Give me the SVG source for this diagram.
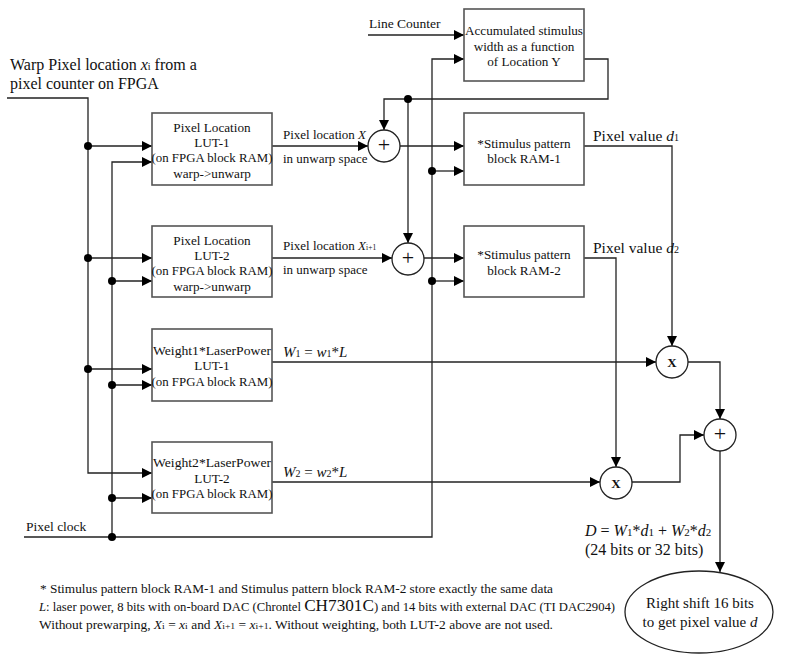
<svg xmlns="http://www.w3.org/2000/svg" width="790" height="662" viewBox="0 0 790 662">
<style>
.box{fill:#fff;stroke:#555;stroke-width:1.6}
.ln{fill:none;stroke:#222;stroke-width:1.3}
.arr{marker-end:url(#ah)}
.dot{fill:#000}
.op{fill:#fff;stroke:#222;stroke-width:1.3}
text{font-family:"Liberation Serif","Times New Roman",serif;fill:#111}
.bt{font-size:13.2px;text-anchor:middle}
.it{font-style:italic}
</style>
<defs>
<marker id="ah" markerWidth="10" markerHeight="10" refX="10" refY="5" orient="auto" markerUnits="userSpaceOnUse"><path d="M0,0 L10,5 L0,10 z" fill="#000"/></marker>
</defs>
<rect width="790" height="662" fill="#fff"/>

<g id="connectors">
<path class="ln arr" d="M7,98 H88 V473 H152"/>
<path class="ln arr" d="M88,146 H152"/>
<path class="ln arr" d="M88,258 H152"/>
<path class="ln arr" d="M88,369 H152"/>
<path class="ln arr" d="M112,537 V162 H152"/>
<path class="ln arr" d="M112,281 H152"/>
<path class="ln arr" d="M112,385 H152"/>
<path class="ln arr" d="M112,498 H152"/>
<path class="ln arr" d="M24,537 H432 V59 H464"/>
<path class="ln arr" d="M432,171 H464"/>
<path class="ln arr" d="M432,281 H464"/>
<path class="ln arr" d="M368,35 H464"/>
<path class="ln arr" d="M584,59 H608 V99 H384 V130"/>
<path class="ln arr" d="M408,99 V243"/>
<path class="ln arr" d="M272,146 H368"/>
<path class="ln arr" d="M400,146 H464"/>
<path class="ln arr" d="M272,258 H392"/>
<path class="ln arr" d="M424,258 H464"/>
<path class="ln arr" d="M584,146 H672 V346"/>
<path class="ln arr" d="M584,258 H616 V467"/>
<path class="ln arr" d="M272,362 H656"/>
<path class="ln arr" d="M272,482 H600"/>
<path class="ln arr" d="M688,362 H720 V419"/>
<path class="ln arr" d="M632,482 H680 V435 H704"/>
<path class="ln arr" d="M720,451 V572"/>
<circle class="dot" cx="88" cy="146" r="4"/>
<circle class="dot" cx="88" cy="258" r="4"/>
<circle class="dot" cx="88" cy="369" r="4"/>
<circle class="dot" cx="112" cy="281" r="4"/>
<circle class="dot" cx="112" cy="385" r="4"/>
<circle class="dot" cx="112" cy="498" r="4"/>
<circle class="dot" cx="112" cy="537" r="4"/>
<circle class="dot" cx="432" cy="171" r="4"/>
<circle class="dot" cx="432" cy="281" r="4"/>
<circle class="dot" cx="408" cy="99" r="4"/>
</g>

<g id="lut1">
<rect class="box" x="152" y="113" width="120" height="72"/>
<text class="bt" x="212" y="132">Pixel Location</text>
<text class="bt" x="212" y="147">LUT-1</text>
<text class="bt" x="212" y="162" textLength="121" lengthAdjust="spacingAndGlyphs">(on FPGA block RAM)</text>
<text class="bt" x="212" y="178">warp-&gt;unwarp</text>
</g>
<g id="lut2">
<rect class="box" x="152" y="226" width="120" height="71"/>
<text class="bt" x="212" y="245">Pixel Location</text>
<text class="bt" x="212" y="260">LUT-2</text>
<text class="bt" x="212" y="275" textLength="121" lengthAdjust="spacingAndGlyphs">(on FPGA block RAM)</text>
<text class="bt" x="212" y="291">warp-&gt;unwarp</text>
</g>
<g id="weight1">
<rect class="box" x="152" y="329" width="120" height="72"/>
<text class="bt" x="212" y="355" textLength="118" lengthAdjust="spacingAndGlyphs">Weight1*LaserPower</text>
<text class="bt" x="212" y="370">LUT-1</text>
<text class="bt" x="212" y="386" textLength="121" lengthAdjust="spacingAndGlyphs">(on FPGA block RAM)</text>
</g>
<g id="weight2">
<rect class="box" x="152" y="442" width="120" height="71"/>
<text class="bt" x="212" y="467" textLength="118" lengthAdjust="spacingAndGlyphs">Weight2*LaserPower</text>
<text class="bt" x="212" y="483">LUT-2</text>
<text class="bt" x="212" y="498" textLength="121" lengthAdjust="spacingAndGlyphs">(on FPGA block RAM)</text>
</g>
<g id="accum">
<rect class="box" x="464" y="9" width="120" height="72"/>
<text class="bt" x="524" y="35" textLength="118" lengthAdjust="spacingAndGlyphs">Accumulated stimulus</text>
<text class="bt" x="524" y="51">width as a function</text>
<text class="bt" x="524" y="66">of Location Y</text>
</g>
<g id="ram1">
<rect class="box" x="464" y="113" width="120" height="72"/>
<text class="bt" x="524" y="148">*Stimulus pattern</text>
<text class="bt" x="524" y="163">block RAM-1</text>
</g>
<g id="ram2">
<rect class="box" x="464" y="226" width="120" height="71"/>
<text class="bt" x="524" y="259">*Stimulus pattern</text>
<text class="bt" x="524" y="275">block RAM-2</text>
</g>
<g id="plus1">
<circle class="op" cx="384" cy="146" r="16"/>
<text x="384" y="152" font-size="22" text-anchor="middle">+</text>
</g>
<g id="plus2">
<circle class="op" cx="408" cy="259" r="16"/>
<text x="408" y="265" font-size="22" text-anchor="middle">+</text>
</g>
<g id="mult1">
<circle class="op" cx="672" cy="362" r="16"/>
<text x="672" y="367" font-size="13" font-weight="bold" text-anchor="middle">X</text>
</g>
<g id="mult2">
<circle class="op" cx="616" cy="483" r="16"/>
<text x="616" y="488" font-size="13" font-weight="bold" text-anchor="middle">X</text>
</g>
<g id="plus3">
<circle class="op" cx="720" cy="435" r="16"/>
<text x="720" y="441" font-size="22" text-anchor="middle">+</text>
</g>
<g id="shift">
<ellipse class="op" cx="699" cy="612" rx="74" ry="41"/>
<text x="700" y="608" font-size="15" text-anchor="middle">Right shift 16 bits</text>
<text x="700" y="627" font-size="15" text-anchor="middle">to get pixel value <tspan class="it">d</tspan></text>
</g>

<g id="labels">
<text x="10" y="70" font-size="16">Warp Pixel location <tspan class="it">x</tspan><tspan font-size="10">i</tspan> from a</text>
<text x="10" y="89" font-size="16">pixel counter on FPGA</text>
<text x="369" y="28" font-size="13.5">Line Counter</text>
<text x="26" y="531" font-size="13.5">Pixel clock</text>
<text x="283" y="139" font-size="13">Pixel location <tspan class="it">X</tspan></text>
<text x="283" y="163" font-size="13">in unwarp space</text>
<text x="283" y="250" font-size="13">Pixel location <tspan class="it">X</tspan><tspan font-size="7.5">i+1</tspan></text>
<text x="283" y="274" font-size="13">in unwarp space</text>
<text x="593" y="141" font-size="15.5">Pixel value <tspan class="it">d</tspan><tspan font-size="10">1</tspan></text>
<text x="593" y="253" font-size="15.5">Pixel value <tspan class="it">d</tspan><tspan font-size="10">2</tspan></text>
<text x="283" y="357" font-size="15"><tspan class="it">W</tspan><tspan font-size="10">1</tspan> = <tspan class="it">w</tspan><tspan font-size="10">1</tspan>*<tspan class="it">L</tspan></text>
<text x="283" y="477" font-size="15"><tspan class="it">W</tspan><tspan font-size="10">2</tspan> = <tspan class="it">w</tspan><tspan font-size="10">2</tspan>*<tspan class="it">L</tspan></text>
<text x="585" y="536" font-size="16"><tspan class="it">D</tspan> = <tspan class="it">W</tspan><tspan font-size="11">1</tspan>*<tspan class="it">d</tspan><tspan font-size="11">1</tspan> + <tspan class="it">W</tspan><tspan font-size="11">2</tspan>*<tspan class="it">d</tspan><tspan font-size="11">2</tspan></text>
<text x="585" y="555" font-size="16">(24 bits or 32 bits)</text>
<text x="40" y="593" font-size="12.5" textLength="513" lengthAdjust="spacingAndGlyphs">* Stimulus pattern block RAM-1 and Stimulus pattern block RAM-2 store exactly the same data</text>
<text x="39" y="611" font-size="12.5" textLength="576" lengthAdjust="spacingAndGlyphs"><tspan class="it">L</tspan>: laser power, 8 bits with on-board DAC (Chrontel <tspan font-size="17">CH7301C</tspan>) and 14 bits with external DAC (TI DAC2904)</text>
<text x="39" y="629" font-size="12.5" textLength="514" lengthAdjust="spacingAndGlyphs">Without prewarping, <tspan class="it">X</tspan><tspan font-size="9">i</tspan> = <tspan class="it">x</tspan><tspan font-size="9">i</tspan> and <tspan class="it">X</tspan><tspan font-size="9">i+1</tspan> = <tspan class="it">x</tspan><tspan font-size="9">i+1</tspan>. Without weighting, both LUT-2 above are not used.</text>
</g>
</svg>
